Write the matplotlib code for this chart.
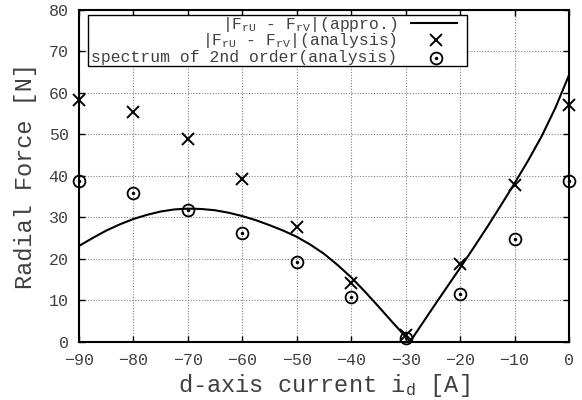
#!/usr/bin/env python
# -*- coding: utf-8 -*-
"""Radial force difference vs. d-axis current."""

import matplotlib
matplotlib.use("Agg")
import matplotlib.pyplot as pyplot
from matplotlib.lines import Line2D
from matplotlib.patches import Rectangle

## Data

# d-axis current [A] for the analysis points
ID_POINTS = [-90, -80, -70, -60, -50, -40, -30, -20, -10, 0]

# |FrU - FrV| from analysis [N]
DIFF_ANALYSIS = [58.3, 55.3, 49.0, 39.3, 27.6, 14.2, 1.5, 18.8, 37.7, 57.2]

# 2nd order spectrum from analysis [N]
SPECTRUM_2ND = [38.8, 35.8, 31.8, 26.3, 19.3, 10.7, 1.0, 11.5, 24.8, 38.8]

# Approximation curve, sampled [A] / [N]
ID_APPRO = [-90, -87.5, -85, -82.5, -80, -77.5, -75, -72.5, -70, -67.5, -65,
            -62.5, -60, -57.5, -55, -52.5, -50, -47.5, -45, -42.5, -40, -37.5,
            -35, -32.5, -30, -29.2, -27.5, -25, -22.5, -20, -17.5, -15, -12.5,
            -10, -7.5, -5, -2.5, 0]
DIFF_APPRO = [23.1, 25.0, 26.8, 28.3, 29.6, 30.6, 31.4, 31.9, 32.1, 32.0, 31.7,
              31.1, 30.3, 29.3, 28.1, 26.8, 25.3, 23.4, 21.2, 18.5, 15.5, 12.1,
              8.5, 4.8, 1.2, 0.0, 3.3, 8.2, 13.0, 17.8, 22.7, 27.7, 32.9,
              38.2, 43.7, 49.6, 56.4, 64.3]

X_TICKS = list(range(-90, 1, 10))
Y_TICKS = list(range(0, 81, 10))

LABELS = [r"|F$_{\rm rU}$ - F$_{\rm rV}$|(appro.)",
          r"|F$_{\rm rU}$ - F$_{\rm rV}$|(analysis)",
          "spectrum of 2nd order(analysis)"]

## Style

W_PX = 582
H_PX = 400
TEXT_COLOR = "#404040"
GRID_COLOR = "#808080"

pyplot.rcParams["font.family"] = "Liberation Mono"
pyplot.rcParams["mathtext.fontset"] = "custom"
pyplot.rcParams["mathtext.rm"] = "Liberation Mono"
pyplot.rcParams["mathtext.it"] = "Liberation Mono"
pyplot.rcParams["mathtext.bf"] = "Liberation Mono"


def px(x, y):
    """Pixel position (from top-left) to figure fraction."""
    return x / W_PX, 1 - y / H_PX


fig = pyplot.figure(figsize=(W_PX / 100, H_PX / 100), dpi=100)
ax = fig.add_axes([79 / W_PX, 1 - 341.7 / H_PX, 490 / W_PX, 331.7 / H_PX])

ax.set_xlim(-90, 0)
ax.set_ylim(0, 80)
ax.set_xticks(X_TICKS)
ax.set_yticks(Y_TICKS)
ax.tick_params(direction="in", length=4, width=1.0, top=True, right=True,
               labelsize=12, labelcolor=TEXT_COLOR, color="black")
ax.tick_params(axis="x", pad=8)
ax.tick_params(axis="y", pad=7.5)
ax.grid(True, color=GRID_COLOR, linestyle=(0, (1, 1.5)), linewidth=0.8)
for side in ax.spines:
    ax.spines[side].set_linewidth(1.5)

ax.set_xlabel(r"d-axis current i$_{\rm d}$ [A]", fontsize=17, color=TEXT_COLOR,
              labelpad=3)
ax.set_ylabel("Radial Force [N]", fontsize=17, color=TEXT_COLOR, labelpad=8)

# Approximation line
ax.plot(ID_APPRO, DIFF_APPRO, color="black", linewidth=1.5)

# Analysis points
cross_style = dict(linestyle="none", marker="x", markersize=8,
                   markeredgewidth=1.4, color="black", clip_on=False)
ring_style = dict(linestyle="none", marker="o", markersize=8.5,
                  markeredgewidth=1.3, markerfacecolor="none", color="black",
                  clip_on=False)
dot_style = dict(linestyle="none", marker="o", markersize=1.5, color="black",
                 clip_on=False)
ax.plot(ID_POINTS, DIFF_ANALYSIS, **cross_style)
ax.plot(ID_POINTS, SPECTRUM_2ND, **ring_style)
ax.plot(ID_POINTS, SPECTRUM_2ND, **dot_style)

# Key box, gnuplot style: right-aligned text, sample on the right
x0, y0 = px(88, 66)
x1, y1 = px(467, 15)
fig.add_artist(Rectangle((x0, y0), x1 - x0, y1 - y0, transform=fig.transFigure,
                         facecolor="white", edgecolor="black", linewidth=1.0,
                         zorder=5))
baselines = [28.5, 45.3, 62]
for label, base in zip(LABELS, baselines):
    fig.text(*px(397, base), label, ha="right", va="baseline", fontsize=11.8,
             color=TEXT_COLOR, zorder=6)

lx0, ly = px(411, 22.5)
lx1, _ = px(457, 22.5)
fig.add_artist(Line2D([lx0, lx1], [ly, ly], color="black", linewidth=1.5,
                      transform=fig.transFigure, zorder=6))
cx, cy = px(436, 40)
fig.add_artist(Line2D([cx], [cy], transform=fig.transFigure, zorder=6,
                      **cross_style))
rx, ry = px(436, 57.5)
fig.add_artist(Line2D([rx], [ry], transform=fig.transFigure, zorder=6,
                      **ring_style))
fig.add_artist(Line2D([rx], [ry], transform=fig.transFigure, zorder=6,
                      **dot_style))

fig.savefig("out.png", dpi=100, facecolor="white")
